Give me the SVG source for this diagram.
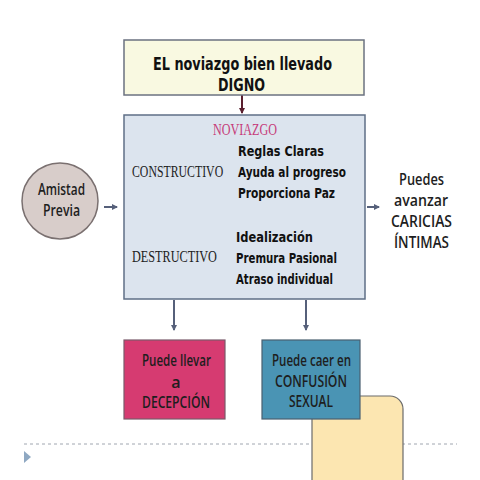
<svg xmlns="http://www.w3.org/2000/svg" width="480" height="480" viewBox="0 0 480 480">
<defs>
<style>
.bx{stroke:#6b7280;stroke-width:1.5}
.hd{font-family:'Liberation Sans Narrow','DejaVu Sans Condensed','Liberation Sans',sans-serif;font-weight:bold;font-size:18px;fill:#111}
.it{font-family:'DejaVu Sans Condensed','DejaVu Sans',sans-serif;font-weight:bold;font-size:14px;fill:#111}
.sf{font-family:'Liberation Serif',serif;font-size:17px;fill:#222}
.rd{font-family:'Open Sans',Lato,'Noto Sans',sans-serif;font-weight:600;font-size:16px;fill:#1e1e1e}
.cn{stroke:#56607a;stroke-width:2;fill:none}
</style>
<marker id="ah" markerWidth="6" markerHeight="6" refX="5" refY="3" orient="auto" markerUnits="userSpaceOnUse">
<path d="M0,0 L6,3 L0,6 z" fill="#56607a"/>
</marker>
<marker id="ahm" markerWidth="6" markerHeight="6" refX="5" refY="3" orient="auto" markerUnits="userSpaceOnUse">
<path d="M0,0 L6,3 L0,6 z" fill="#5a1f2e"/>
</marker>
</defs>
<rect width="480" height="480" fill="#ffffff"/>
<g id="fondo">
<line x1="24" y1="444" x2="457" y2="444" stroke="#a0a6b0" stroke-width="1" stroke-dasharray="3,3"/>
<polygon points="24,451 31,457 24,463" fill="#8fa8c2"/>
<rect x="312" y="396" width="91" height="100" rx="13" fill="#fce6b1" stroke="#6b6b6b" stroke-width="1.2"/>
</g>
<g id="conectores">
<line x1="242" y1="95" x2="242" y2="113" stroke="#5a1f2e" stroke-width="2" marker-end="url(#ahm)"/>
<line x1="104" y1="207" x2="117" y2="207" class="cn" marker-end="url(#ah)"/>
<line x1="367" y1="207" x2="379" y2="207" class="cn" marker-end="url(#ah)"/>
<line x1="174" y1="300" x2="174" y2="330" class="cn" marker-end="url(#ah)"/>
<line x1="306" y1="300" x2="306" y2="330" class="cn" marker-end="url(#ah)"/>
</g>
<g id="titulo">
<rect x="124" y="40" width="240" height="55" fill="#f9f9e1" class="bx"/>
<text x="242.5" y="70" class="hd" text-anchor="middle" textLength="179" lengthAdjust="spacingAndGlyphs">EL noviazgo bien llevado</text>
<text x="241.5" y="91" class="hd" text-anchor="middle" textLength="47" lengthAdjust="spacingAndGlyphs">DIGNO</text>
</g>
<g id="noviazgo">
<rect x="124" y="115" width="241" height="184" fill="#dce4ee" stroke="#5f6f86" stroke-width="1.5"/>
<text x="245" y="135" class="sf" style="fill:#c63c7a" text-anchor="middle" textLength="64" lengthAdjust="spacingAndGlyphs">NOVIAZGO</text>
<text class="sf" transform="translate(132,177) scale(0.695,1)">CONSTRUCTIVO</text>
<text x="238" y="156" class="it" textLength="86" lengthAdjust="spacingAndGlyphs">Reglas  Claras</text>
<text x="238" y="177" class="it" textLength="108" lengthAdjust="spacingAndGlyphs">Ayuda al progreso</text>
<text x="238" y="198" class="it" textLength="97" lengthAdjust="spacingAndGlyphs">Proporciona Paz</text>
<text class="sf" transform="translate(132,262) scale(0.72,1)">DESTRUCTIVO</text>
<text x="236" y="242" class="it" textLength="77" lengthAdjust="spacingAndGlyphs">Idealización</text>
<text x="236" y="263" class="it" textLength="101" lengthAdjust="spacingAndGlyphs">Premura Pasional</text>
<text x="236" y="284" class="it" textLength="97" lengthAdjust="spacingAndGlyphs">Atraso individual</text>
</g>
<g id="amistad">
<circle cx="60" cy="201" r="38" fill="#d8cdca" stroke="#7a7070" stroke-width="1.5"/>
<text x="61.5" y="195" class="rd" text-anchor="middle" textLength="47" lengthAdjust="spacingAndGlyphs">Amistad</text>
<text x="61.5" y="216" class="rd" text-anchor="middle" textLength="37" lengthAdjust="spacingAndGlyphs">Previa</text>
</g>
<g id="caricias">
<text x="421.5" y="185" class="rd" text-anchor="middle" textLength="45" lengthAdjust="spacingAndGlyphs">Puedes</text>
<text x="421" y="206" class="rd" text-anchor="middle" textLength="54" lengthAdjust="spacingAndGlyphs">avanzar</text>
<text x="421.5" y="227" class="rd" text-anchor="middle" textLength="61" lengthAdjust="spacingAndGlyphs">CARICIAS</text>
<text x="421.5" y="248" class="rd" text-anchor="middle" textLength="55" lengthAdjust="spacingAndGlyphs">ÍNTIMAS</text>
</g>
<g id="decepcion">
<rect x="124" y="340" width="101" height="79" fill="#d63b71" stroke="#7a5a6a" stroke-width="1.2"/>
<text x="176.5" y="366" class="rd" text-anchor="middle" textLength="69" lengthAdjust="spacingAndGlyphs">Puede llevar</text>
<text x="176" y="388" class="rd" text-anchor="middle">a</text>
<text x="176" y="408" class="rd" text-anchor="middle" textLength="68" lengthAdjust="spacingAndGlyphs">DECEPCIÓN</text>
</g>
<g id="confusion">
<rect x="262" y="340" width="98" height="79" fill="#4a94b4" stroke="#4a6070" stroke-width="1.2"/>
<text x="311.5" y="366" class="rd" text-anchor="middle" textLength="79" lengthAdjust="spacingAndGlyphs">Puede caer en</text>
<text x="311" y="387" class="rd" text-anchor="middle" textLength="72" lengthAdjust="spacingAndGlyphs">CONFUSIÓN</text>
<text x="311" y="407" class="rd" text-anchor="middle" textLength="44" lengthAdjust="spacingAndGlyphs">SEXUAL</text>
</g>
</svg>
